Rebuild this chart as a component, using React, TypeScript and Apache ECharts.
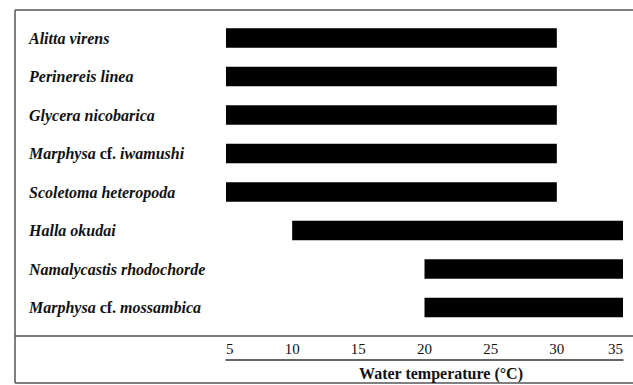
import React, { useEffect, useRef } from "react";
import * as echarts from "echarts";

const species = [
  "Alitta virens",
  "Perinereis linea",
  "Glycera nicobarica",
  "Marphysa cf. iwamushi",
  "Scoletoma heteropoda",
  "Halla okudai",
  "Namalycastis rhodochorde",
  "Marphysa cf. mossambica",
];
const minTemp = [5, 5, 5, 5, 5, 10, 20, 20];
const maxTemp = [30, 30, 30, 30, 30, 35, 35, 35];
const xTicks = [5, 10, 15, 20, 25, 30, 35];
const xTitle = "Water temperature (°C)";

const FONT = "'Liberation Serif', 'Times New Roman', serif";
const LINE = "#555";

export default function App() {
  const ref = useRef<HTMLDivElement>(null);
  useEffect(() => {
    if (!ref.current) return;
    const chart = echarts.init(ref.current, undefined, { renderer: "svg" });
    const lines = [
      [15, 10, 633, 10],
      [15, 10, 15, 383],
      [15, 383, 633, 383],
      [15, 336, 633, 336],
    ];
    chart.setOption({
      animation: false,
      backgroundColor: "#fff",
      grid: { left: 226, right: 10, top: 18.75, bottom: 58.25 },
      xAxis: {
        type: "value",
        min: xTicks[0],
        max: xTicks[xTicks.length - 1],
        interval: xTicks[1] - xTicks[0],
        offset: 33.25,
        axisLine: { show: true, lineStyle: { color: "#333", width: 1.5 } },
        axisTick: { show: false },
        splitLine: { show: false },
        axisLabel: {
          inside: true,
          margin: 4,
          color: "#111",
          fontFamily: FONT,
          fontSize: 15,
          alignMinLabel: "left",
          alignMaxLabel: "right",
        },
      },
      yAxis: {
        type: "category",
        inverse: true,
        data: species,
        axisLine: { show: false },
        axisTick: { show: false },
        axisLabel: {
          align: "left",
          margin: 197,
          formatter: (name: string) => {
            const m = name.match(/^(\S+) cf\. (\S+)$/);
            if (m) return `{i|${m[1]}}{n| cf. }{i|${m[2]}}`;
            return `{i|${name}}`;
          },
          rich: {
            i: {
              fontFamily: FONT,
              fontStyle: "italic",
              fontWeight: "bold",
              fontSize: 16,
              color: "#111",
            },
            n: {
              fontFamily: FONT,
              fontWeight: "bold",
              fontSize: 16,
              color: "#111",
            },
          },
        },
      },
      series: [
        {
          type: "bar",
          stack: "range",
          barWidth: 19.5,
          itemStyle: { color: "transparent" },
          data: minTemp,
          silent: true,
        },
        {
          type: "bar",
          stack: "range",
          barWidth: 19.5,
          itemStyle: { color: "#000" },
          data: maxTemp.map((v, i) => v - minTemp[i]),
        },
      ],
      graphic: [
        ...lines.map(([x1, y1, x2, y2]) => ({
          type: "line",
          shape: { x1, y1, x2, y2 },
          style: { stroke: LINE, lineWidth: 1.5 },
        })),
        {
          type: "text",
          x: 441,
          y: 373,
          style: {
            text: xTitle,
            fontFamily: FONT,
            fontWeight: "bold",
            fontSize: 16,
            fill: "#111",
            textAlign: "center",
            textVerticalAlign: "middle",
          },
        },
      ],
    });
    return () => chart.dispose();
  }, []);
  return (
    <div
      ref={ref}
      style={{ position: "fixed", left: 0, top: 0, width: 633, height: 385 }}
    />
  );
}
